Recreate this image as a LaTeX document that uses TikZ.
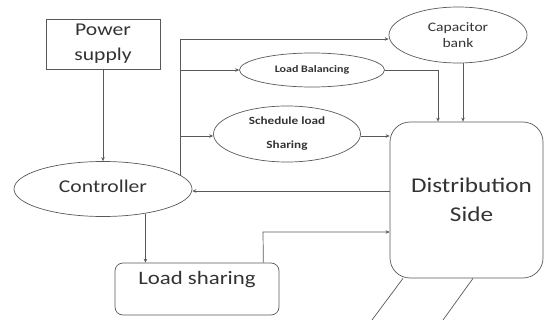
\documentclass[tikz,border=0pt]{standalone}
\usepackage{fontspec}
\setmainfont{Carlito}[FakeStretch=1.2]
\usetikzlibrary{shapes.geometric,arrows.meta}
\begin{document}
\begin{tikzpicture}[x=1pt,y=-1pt,
  every node/.style={inner sep=0pt, text=black!80},
  ln/.style={draw=black!65, line width=0.7pt},
  arr/.style={ln, -{Stealth[length=4pt,width=3.5pt]}},
  bx/.style={ln, rectangle},
  oval/.style={ln, ellipse},
  rbox/.style={ln, rectangle, rounded corners=#1}]
\useasboundingbox (0,0) rectangle (545,320);
% nodes
\node[bx, minimum width=114pt, minimum height=50pt, align=center,
  font=\fontsize{18}{25}\selectfont] (ps) at (103,44) {\raisebox{-2pt}{\parbox{100pt}{\centering Power\\supply}}};
\node[oval, minimum width=178pt, minimum height=55pt,
  font=\fontsize{18}{22}\selectfont] (ctrl) at (103,189) {\raisebox{5pt}{Controller}};
\node[oval, minimum width=145pt, minimum height=34pt,
  font=\bfseries\fontsize{10}{12}\selectfont] (lb) at (312,70) {\raisebox{3pt}{Load Balancing}};
\node[oval, minimum width=147pt, minimum height=56pt, align=center,
  font=\bfseries\fontsize{11}{24}\selectfont] (sch) at (287,134) {\raisebox{-2pt}{\parbox{80pt}{\centering Schedule load\\Sharing}}};
\node[oval, minimum width=138pt, minimum height=56pt, align=center,
  font=\fontsize{13}{16}\selectfont] (cap) at (458,35) {Capacitor\\bank};
\node[rbox=20pt, minimum width=153pt, minimum height=156pt, align=center,
  font=\fontsize{21}{29}\selectfont] (dist) at (466.5,200) {\hspace*{10pt}\raisebox{10pt}{\parbox{130pt}{\centering Distribution\\Side}}};
\node[rbox=8pt, minimum width=164pt, minimum height=52pt] (ls) at (197,289) {};
\node[anchor=north, font=\fontsize{19}{22}\selectfont] (lst) at ([yshift=-8pt]ls.north) {Load sharing};
% junction coordinates
\coordinate (j3) at (263,232);
\coordinate (d1) at (372,320);
\coordinate (d2) at (443,320);
% connectors
\draw[arr] (ps.south) -- (ctrl.north -| ps.south);
\draw[arr] (ctrl.10) |- ([yshift=-4pt]cap.west);
\draw[arr] (lb.west -| ctrl.10) -- (lb.west);
\draw[arr] ([yshift=-2pt]sch.west -| ctrl.10) -- ([yshift=-2pt]sch.west);
\draw[arr] (lb.east) -| ([xshift=-28.5pt]dist.north);
\draw[arr] ([xshift=5pt]cap.south) -- ([xshift=5pt]cap.south |- dist.north);
\draw[arr] ([yshift=-2pt]sch.east) -- ([yshift=-2pt]sch.east -| dist.west);
\draw[arr] ([yshift=-2pt]dist.west |- ctrl.east) -- ([yshift=-2pt]ctrl.east);
\draw[arr] ([xshift=-16pt]ls.north east) -- (j3) -- (j3 -| dist.west);
\draw[arr] (ctrl.-30) -- (ctrl.-30 |- ls.north);
\draw[ln] ([xshift=-63.5pt]dist.south) -- (d1);
\draw[ln] ([xshift=6.5pt]dist.south) -- (d2);
\end{tikzpicture}
\end{document}
